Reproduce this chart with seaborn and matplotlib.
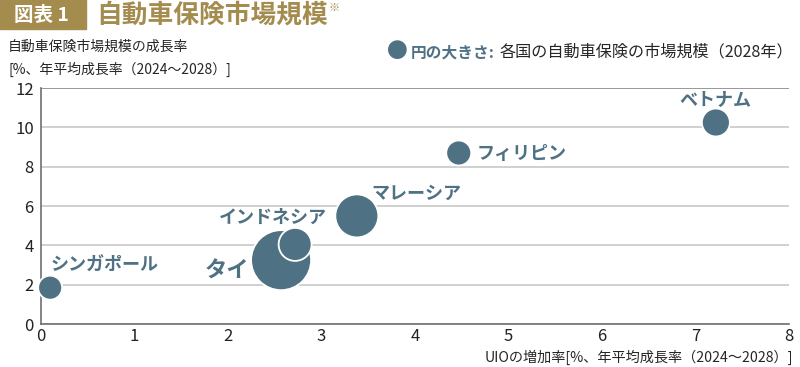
import pandas as pd
import numpy as np
import seaborn as sns
import matplotlib.pyplot as plt
from matplotlib.patches import Rectangle

# data
countries = ['シンガポール', 'タイ', 'インドネシア', 'マレーシア', 'フィリピン', 'ベトナム']
uio_growth = [0.1, 2.57, 2.72, 3.38, 4.47, 7.22]
market_growth = [1.85, 3.25, 4.05, 5.5, 8.7, 10.25]
market_size = [144, 900, 272, 462, 156, 196]   # relative, from bubble area

df = pd.DataFrame({'country': countries, 'uio': uio_growth,
                   'growth': market_growth, 'size': market_size})

sns.set_style('white')
plt.rcParams['font.family'] = ['Noto Sans CJK JP', 'DejaVu Sans']

BLUE = '#4f7184'
GOLD = '#a38c4e'

fig = plt.figure(figsize=(8, 3.67), dpi=100)
ax = fig.add_axes([0.051, 0.117, 0.935, 0.643])

# area proportional to market size; thailand r~30px
smax = (2 * 30 * 72 / 100) ** 2
sns.scatterplot(data=df, x='uio', y='growth', size='size',
                sizes=(0, smax), size_norm=(0, max(market_size)),
                color=BLUE, edgecolor='white', linewidth=1.3, alpha=1,
                legend=False, ax=ax, clip_on=False, zorder=3)

ax.set_xlim(0, 8)
ax.set_ylim(0, 12)
ax.set_xticks(range(0, 9))
ax.set_yticks(range(0, 13, 2))
ax.set_xlabel('')
ax.set_ylabel('')
ax.grid(axis='y', color='#c8c8c8', linewidth=1.2)
ax.grid(axis='x', visible=False)
ax.set_axisbelow(True)
for s in ['top', 'right']:
    ax.spines[s].set_visible(False)
for s in ['left', 'bottom']:
    ax.spines[s].set_color('#707070')
    ax.spines[s].set_linewidth(1.2)
ax.tick_params(axis='x', direction='in', length=4, color='#b0b0b0',
               labelsize=12, pad=3, labelcolor='#222222')
ax.tick_params(axis='y', length=0, labelsize=12, pad=5, labelcolor='#222222')
ax.axhline(12, color='#909090', linewidth=1.2, zorder=1)

# country labels
lab = dict(color=BLUE, fontweight='bold', fontsize=13)
ax.text(0.1, 3.0, 'シンガポール', ha='left', va='center', **lab)
ax.text(1.75, 2.7, 'タイ', ha='left', va='center', color=BLUE,
        fontweight='bold', fontsize=16)
ax.text(1.9, 5.45, 'インドネシア', ha='left', va='center', **lab)
ax.text(3.54, 6.65, 'マレーシア', ha='left', va='center', **lab)
ax.text(4.66, 8.68, 'フィリピン', ha='left', va='center', **lab)
ax.text(6.83, 11.35, 'ベトナム', ha='left', va='center', **lab)

# axis titles
fig.text(0.01, 0.872, '自動車保険市場規模の成長率', fontsize=10, va='center')
fig.text(0.01, 0.81, '[%、年平均成長率（2024〜2028）]', fontsize=10, va='center')
fig.text(0.992, 0.005, 'UIOの増加率[%、年平均成長率（2024〜2028）]',
         fontsize=10.2, ha='right', va='bottom')

# legend note
fig.text(0.497, 0.858, '●', color=BLUE, fontsize=15, ha='center', va='center')
fig.text(0.513, 0.858, '円の大きさ:', color=BLUE, fontsize=11.3,
         fontweight='bold', va='center')
fig.text(0.991, 0.858, '各国の自動車保険の市場規模（2028年）', fontsize=11.6,
         ha='right', va='center')

# header
fig.patches.append(Rectangle((0, 1 - 29 / 367), 86 / 800, 29 / 367,
                             transform=fig.transFigure, color=GOLD))
fig.text(0.052, 1 - 15 / 367, '図表 1', color='white', fontsize=14,
         fontweight='bold', ha='center', va='center')
fig.text(0.12, 1 - 15 / 367, '自動車保険市場規模', color=GOLD, fontsize=18.5,
         fontweight='bold', va='center')
fig.text(0.41, 1 - 8 / 367, '※', color=GOLD, fontsize=8, va='center')

plt.savefig('out.png', dpi=100)
